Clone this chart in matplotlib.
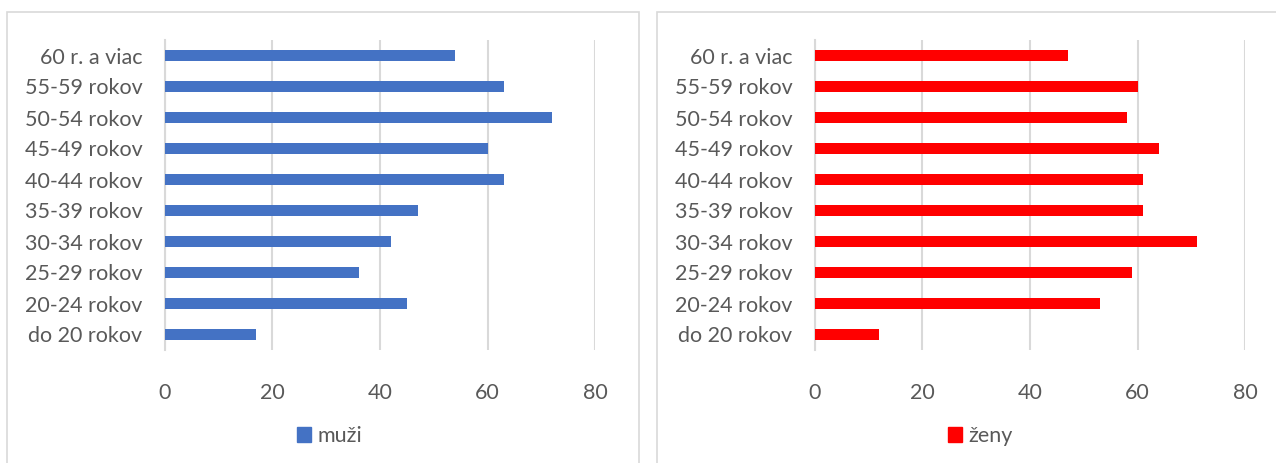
import matplotlib
matplotlib.use("Agg")
import matplotlib.pyplot as plt
from matplotlib.patches import Rectangle, Patch

# data (bottom to top order as drawn)
categories = ["do 20 rokov", "20-24 rokov", "25-29 rokov", "30-34 rokov", "35-39 rokov",
              "40-44 rokov", "45-49 rokov", "50-54 rokov", "55-59 rokov", "60 r. a viac"]
muzi = [17, 45, 36, 42, 47, 63, 60, 72, 63, 54]
zeny = [12, 53, 59, 71, 61, 61, 64, 58, 60, 47]
xticks = [0, 20, 40, 60, 80]

plt.rcParams['font.family'] = ['Lato', 'DejaVu Sans']
textColor = "#595959"
gridColor = "#d9d9d9"

W, H = 1276, 463
fig = plt.figure(figsize=(W / 100, H / 100), dpi=100)

# chart frames
fig.patches.append(Rectangle((7 / W, -0.05), (639 - 7) / W, 1.05 - 12 / H,
                             transform=fig.transFigure, fill=False,
                             edgecolor=gridColor, linewidth=1.2))
fig.patches.append(Rectangle((657 / W, -0.05), (1290 - 657) / W, 1.05 - 12 / H,
                             transform=fig.transFigure, fill=False,
                             edgecolor=gridColor, linewidth=1.2))


def drawPanel(left, values, color, label, legendX):
    ax = fig.add_axes([left / W, 1 - 350 / H, 430.7 / W, 310 / H])
    y = range(len(categories))
    ax.barh(y, values, height=0.345, color=color, zorder=3)
    ax.set_xlim(0, 80)
    ax.set_ylim(-0.5, len(categories) - 0.5)
    ax.set_xticks(xticks)
    ax.set_yticks(list(y))
    ax.set_yticklabels(categories)
    ax.grid(axis='x', color=gridColor, linewidth=1.5, zorder=0)
    for s in ['top', 'right', 'bottom']:
        ax.spines[s].set_visible(False)
    ax.spines['left'].set_color(gridColor)
    ax.spines['left'].set_linewidth(1.5)
    ax.tick_params(length=0, labelsize=15.5, labelcolor=textColor)
    ax.tick_params(axis='x', pad=24)
    ax.tick_params(axis='y', pad=16)
    fig.legend(handles=[Patch(color=color, label=label)],
               loc='center', bbox_to_anchor=(legendX / W, 1 - 436 / H),
               frameon=False, fontsize=15.5, labelcolor=textColor,
               handlelength=0.65, handleheight=0.65, handletextpad=0.3)
    return ax


drawPanel(164.7, muzi, "#4472C4", "muži", 330)
drawPanel(814.7, zeny, "#FF0000", "ženy", 980)

fig.savefig("out.png", dpi=100)
